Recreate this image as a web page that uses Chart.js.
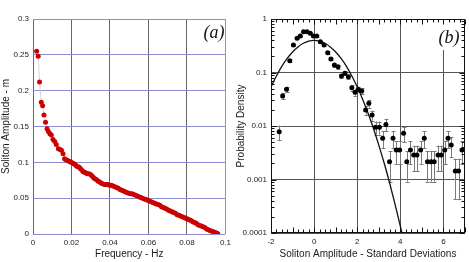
<!DOCTYPE html>
<html>
<head>
<meta charset="utf-8">
<script src="https://cdn.jsdelivr.net/npm/chart.js@4.4.0/dist/chart.umd.min.js"></script>
<style>
  html, body { margin: 0; padding: 0; background: #fff; }
  #envoltura { position: relative; width: 469px; height: 262px; }
  .caja { position: absolute; top: 0; height: 262px; }
  #cajaA { left: 0; width: 235px; }
  #cajaB { left: 235px; width: 234px; }
</style>
</head>
<body>
<div id="envoltura">
  <div class="caja" id="cajaA"><canvas id="graficaA"></canvas></div>
  <div class="caja" id="cajaB"><canvas id="graficaB"></canvas></div>
</div>
<script>
// (a) amplitud del solitón frente a frecuencia
const frecuenciaHz = [
  0.0019, 0.0027, 0.0034, 0.0043, 0.0050, 0.0057, 0.0065, 0.0073, 0.0080, 0.0088,
  0.0095, 0.0104, 0.0113, 0.0121, 0.0132, 0.0140, 0.0148, 0.0156, 0.0164, 0.0170,
  0.0177, 0.0184, 0.0191, 0.0198, 0.0205, 0.0212, 0.0219, 0.0226, 0.0233, 0.0240,
  0.0247, 0.0254, 0.0261, 0.0268, 0.0275, 0.0283, 0.0291, 0.0299, 0.0307, 0.0314,
  0.0321, 0.0329, 0.0337, 0.0345, 0.0353, 0.0362, 0.0371, 0.0380, 0.0389, 0.0398,
  0.0407, 0.0416, 0.0425, 0.0434, 0.0443, 0.0452, 0.0461, 0.0470, 0.0479, 0.0488,
  0.0497, 0.0506, 0.0515, 0.0524, 0.0533, 0.0542, 0.0551, 0.0560, 0.0569, 0.0578,
  0.0587, 0.0596, 0.0605, 0.0614, 0.0623, 0.0632, 0.0641, 0.0650, 0.0659, 0.0668,
  0.0677, 0.0686, 0.0695, 0.0704, 0.0713, 0.0722, 0.0731, 0.0740, 0.0749, 0.0758,
  0.0767, 0.0776, 0.0785, 0.0794, 0.0803, 0.0812, 0.0821, 0.0830, 0.0839, 0.0848,
  0.0857, 0.0866, 0.0875, 0.0884, 0.0893, 0.0902, 0.0911, 0.0920, 0.0929, 0.0938,
  0.0947, 0.0956, 0.0961
];
const amplitudM = [
  0.255, 0.248, 0.212, 0.184, 0.179, 0.166, 0.156, 0.147, 0.143, 0.140,
  0.138, 0.132, 0.129, 0.125, 0.119, 0.118, 0.117, 0.112, 0.105, 0.104,
  0.103, 0.102, 0.101, 0.100, 0.099, 0.098, 0.097, 0.095, 0.094, 0.093,
  0.091, 0.089, 0.087, 0.086, 0.085, 0.084, 0.084, 0.083, 0.081, 0.079,
  0.077, 0.076, 0.074, 0.073, 0.071, 0.070, 0.069, 0.069, 0.069, 0.068,
  0.068, 0.067, 0.066, 0.065, 0.064, 0.062, 0.061, 0.060, 0.059, 0.058,
  0.057, 0.056, 0.056, 0.055, 0.054, 0.053, 0.052, 0.051, 0.050, 0.049,
  0.048, 0.047, 0.046, 0.045, 0.044, 0.043, 0.042, 0.041, 0.040, 0.038,
  0.037, 0.036, 0.035, 0.033, 0.032, 0.031, 0.030, 0.029, 0.027, 0.026,
  0.025, 0.024, 0.023, 0.022, 0.021, 0.020, 0.019, 0.017, 0.016, 0.015,
  0.013, 0.012, 0.011, 0.010, 0.009, 0.007, 0.006, 0.005, 0.004, 0.003,
  0.002, 0.001, 0.000
];
const ticksFrecuencia = [0, 0.02, 0.04, 0.06, 0.08, 0.1];
const ticksAmplitud = [0, 0.05, 0.1, 0.15, 0.2, 0.25, 0.3];

// (b) densidad de probabilidad frente a desviaciones estándar
const desviaciones = [
  -1.62, -1.46, -1.28, -1.13, -0.96, -0.79, -0.64, -0.49, -0.33, -0.18,
  -0.03, 0.12, 0.29, 0.46, 0.63, 0.78, 0.94, 1.11, 1.27, 1.43,
  1.59, 1.75, 1.90, 2.05, 2.21, 2.39, 2.54, 2.69, 2.85, 3.03,
  3.18, 3.33, 3.50, 3.66, 3.81, 3.97, 4.15, 4.30, 4.47, 4.62,
  4.77, 4.94, 5.11, 5.26, 5.42, 5.57, 5.75, 5.90, 6.06, 6.21,
  6.36, 6.55, 6.70, 6.86
];
const densidad = [
  0.0078, 0.0364, 0.0485, 0.166, 0.327, 0.435, 0.481, 0.58, 0.58, 0.54,
  0.48, 0.48, 0.376, 0.327, 0.235, 0.179, 0.138, 0.128, 0.086, 0.0966,
  0.0835, 0.052, 0.0426, 0.0485, 0.0451, 0.0199, 0.0265, 0.016, 0.0095, 0.0095,
  0.0059, 0.0107, 0.00215, 0.0059, 0.00356, 0.00356, 0.0073, 0.00215, 0.00356, 0.00287,
  0.00287, 0.00356, 0.0059, 0.00215, 0.00215, 0.00215, 0.00287, 0.00287, 0.00356, 0.0059,
  0.0044, 0.00144, 0.00144, 0.00356
];
const errDensidad = [
  0.0024, 0.0051, 0.0059, 0.0109, 0.0153, 0.0177, 0.0186, 0.0204, 0.0204, 0.0197,
  0.0186, 0.0186, 0.0164, 0.0153, 0.013, 0.0113, 0.0099, 0.0096, 0.0079, 0.0083,
  0.0077, 0.0061, 0.0055, 0.0059, 0.0057, 0.0038, 0.0044, 0.0034, 0.0026, 0.0026,
  0.0021, 0.0028, 0.00124, 0.0021, 0.0016, 0.0016, 0.0023, 0.00124, 0.0016, 0.00143,
  0.00143, 0.0016, 0.0021, 0.00124, 0.00124, 0.00124, 0.00143, 0.00143, 0.0016, 0.0021,
  0.00178, 0.00101, 0.00101, 0.0016
];
const curvaX = [
  -2, -1.75, -1.5, -1.25, -1, -0.75, -0.5, -0.25, 0, 0.25, 0.5, 0.75, 1,
  1.25, 1.5, 1.75, 2, 2.25, 2.5, 2.75, 3, 3.25, 3.5, 3.75, 4, 4.1
];
const curvaY = [
  0.054, 0.086, 0.13, 0.183, 0.242, 0.301, 0.352, 0.387, 0.399, 0.387, 0.352, 0.301, 0.242,
  0.183, 0.13, 0.086, 0.054, 0.0317, 0.0175, 0.0091, 0.0044, 0.00203, 0.00087, 0.00035, 0.000134, 0.0000893
];
const ticksDesviacion = [-2, 0, 2, 4, 6];
const ticksDensidad = [0.0001, 0.001, 0.01, 0.1, 1];

const fuente = "'Liberation Sans', Arial, Helvetica, sans-serif";
const colorTexto = "#1a1a1a";

Chart.defaults.animation = false;
Chart.defaults.font.family = fuente;

// quita ceros sobrantes: 0.30 -> 0.3, 0.00 -> 0
const formatoCorto = (v) => String(parseFloat(Number(v).toFixed(4)));

function etiqueta(texto, x, y) {
    return {
        id: "etiqueta" + texto,
        afterDatasetsDraw(chart) {
            const ctx = chart.ctx;
            ctx.save();
            ctx.font = "italic 18px 'Liberation Serif', 'Times New Roman', serif";
            ctx.fillStyle = "#111";
            ctx.textAlign = "center";
            ctx.textBaseline = "middle";
            ctx.fillText(texto, x, y);
            ctx.restore();
        }
    };
}

// ---------- grafica (a) ----------
new Chart(document.getElementById("graficaA"), {
    type: "scatter",
    data: {
        datasets: [{
            data: frecuenciaHz.map((f, i) => ({ x: f, y: amplitudM[i] })),
            showLine: true,
            borderColor: "#c8c8c8",
            borderWidth: 0.8,
            pointRadius: 2.5,
            pointBackgroundColor: "#cc0000",
            pointBorderWidth: 0
        }]
    },
    options: {
        responsive: true,
        maintainAspectRatio: false,
        layout: { padding: { top: 19, right: 7, left: 0, bottom: 0 } },
        plugins: { legend: { display: false }, tooltip: { enabled: false } },
        scales: {
            x: {
                type: "linear",
                min: 0, max: 0.1,
                afterBuildTicks: (s) => { s.ticks = ticksFrecuencia.map(v => ({ value: v })); },
                afterFit: (s) => { s.height = 28; },
                border: { display: false },
                grid: {
                    drawTicks: false,
                    color: (c) => c.index === ticksFrecuencia.length - 1 ? "#8c8cd2" : "#666",
                    lineWidth: 1
                },
                ticks: { color: colorTexto, font: { size: 8 }, padding: 4, maxRotation: 0, callback: formatoCorto },
                title: { display: true, text: "Frequency - Hz", color: colorTexto, font: { size: 10 }, padding: { top: 0, bottom: 2 } }
            },
            y: {
                type: "linear",
                min: 0, max: 0.3,
                afterBuildTicks: (s) => { s.ticks = ticksAmplitud.map(v => ({ value: v })); },
                afterFit: (s) => { s.width = 33; },
                border: { display: false },
                grid: { drawTicks: false, color: "#8c8cd2", lineWidth: 1 },
                ticks: { color: colorTexto, font: { size: 8 }, padding: 4, callback: formatoCorto },
                title: { display: true, text: "Soliton Amplitude - m", color: colorTexto, font: { size: 10 }, padding: { top: 0, bottom: 0 } }
            }
        }
    },
    plugins: [etiqueta("(a)", 214, 33)]
});

// ---------- grafica (b) ----------
const erroresPlugin = {
    id: "errores",
    beforeDatasetsDraw(chart) {
        const { ctx, chartArea } = chart;
        const x = chart.scales.x, y = chart.scales.y;
        ctx.save();
        ctx.beginPath();
        ctx.rect(chartArea.left, chartArea.top, chartArea.width, chartArea.height);
        ctx.clip();
        ctx.strokeStyle = "#7a7a7a";
        ctx.lineWidth = 1;
        desviaciones.forEach((d, i) => {
            const px = Math.round(x.getPixelForValue(d)) + 0.5;
            const alto = y.getPixelForValue(densidad[i] + errDensidad[i]);
            const bajo = y.getPixelForValue(Math.max(densidad[i] - errDensidad[i], 1e-6));
            ctx.beginPath();
            ctx.moveTo(px, alto);
            ctx.lineTo(px, bajo);
            ctx.moveTo(px - 2, Math.round(alto) + 0.5);
            ctx.lineTo(px + 2, Math.round(alto) + 0.5);
            ctx.moveTo(px - 2, Math.round(bajo) + 0.5);
            ctx.lineTo(px + 2, Math.round(bajo) + 0.5);
            ctx.stroke();
        });
        ctx.restore();
    }
};

const marcoPlugin = {
    id: "marco",
    afterDatasetsDraw(chart) {
        const ctx = chart.ctx;
        // caja blanca detras de (b)
        ctx.save();
        ctx.fillStyle = "#fff";
        ctx.fillRect(chart.chartArea.right - 30, chart.chartArea.top + 1, 27, 30);
        ctx.font = "italic 18px 'Liberation Serif', 'Times New Roman', serif";
        ctx.fillStyle = "#111";
        ctx.textAlign = "center";
        ctx.textBaseline = "middle";
        ctx.fillText("(b)", chart.chartArea.right - 16, 38);
        ctx.restore();
    },
    afterDraw(chart) {
        const { ctx, chartArea } = chart;
        const x = chart.scales.x, y = chart.scales.y;
        const l = Math.round(chartArea.left) + 0.5, r = Math.round(chartArea.right) - 0.5;
        const t = Math.round(chartArea.top) + 0.5, b = Math.round(chartArea.bottom) - 0.5;
        ctx.save();
        ctx.strokeStyle = "#111";
        ctx.lineWidth = 1;
        ctx.strokeRect(l, t, r - l, b - t);
        ctx.beginPath();
        // marcas menores en los bordes izquierdo y derecho (log)
        ticksDensidad.slice(0, -1).forEach(dec => {
            for (let k = 1; k <= 9; k++) {
                const py = Math.round(y.getPixelForValue(dec * k)) + 0.5;
                const largo = k === 1 ? 5 : 3;
                ctx.moveTo(l, py); ctx.lineTo(l + largo, py);
                ctx.moveTo(r, py); ctx.lineTo(r - largo, py);
            }
        });
        // marcas en los bordes superior e inferior
        for (let v = -2; v <= 7; v += 0.25) {
            const px = Math.round(x.getPixelForValue(v)) + 0.5;
            const largo = Number.isInteger(v) ? 5 : 3;
            ctx.moveTo(px, t); ctx.lineTo(px, t + largo);
            ctx.moveTo(px, b); ctx.lineTo(px, b - largo);
        }
        ctx.stroke();
        ctx.restore();
    }
};

new Chart(document.getElementById("graficaB"), {
    type: "scatter",
    data: {
        datasets: [
            {
                data: desviaciones.map((d, i) => ({ x: d, y: densidad[i] })),
                pointRadius: 2.5,
                pointBackgroundColor: "#000",
                pointBorderWidth: 0
            },
            {
                data: curvaX.map((v, i) => ({ x: v, y: curvaY[i] })),
                showLine: true,
                borderColor: "#111",
                borderWidth: 1.3,
                pointRadius: 0,
                cubicInterpolationMode: "monotone"
            }
        ]
    },
    options: {
        responsive: true,
        maintainAspectRatio: false,
        layout: { padding: { top: 19, right: 2, left: 0, bottom: 0 } },
        plugins: { legend: { display: false }, tooltip: { enabled: false } },
        scales: {
            x: {
                type: "linear",
                min: -2, max: 7,
                afterBuildTicks: (s) => { s.ticks = ticksDesviacion.map(v => ({ value: v })); },
                afterFit: (s) => { s.height = 29; },
                border: { display: false },
                grid: { drawTicks: false, color: "#555", lineWidth: 1 },
                ticks: { color: colorTexto, font: { size: 8 }, padding: 4, maxRotation: 0 },
                title: { display: true, text: "Soliton Amplitude - Standard Deviations", color: colorTexto, font: { size: 10 }, padding: { top: 0, bottom: 2 } }
            },
            y: {
                type: "logarithmic",
                min: 0.0001, max: 1,
                afterBuildTicks: (s) => { s.ticks = ticksDensidad.map(v => ({ value: v })); },
                afterFit: (s) => { s.width = 36; },
                border: { display: false },
                grid: { drawTicks: false, color: "#555", lineWidth: 1 },
                ticks: {
                    color: colorTexto, font: { size: 8 }, padding: 4,
                    callback: (v) => String(v)
                },
                title: { display: true, text: "Probability Density", color: colorTexto, font: { size: 10 }, padding: { top: 0, bottom: 0 } }
            }
        }
    },
    plugins: [erroresPlugin, marcoPlugin]
});
</script>
</body>
</html>
